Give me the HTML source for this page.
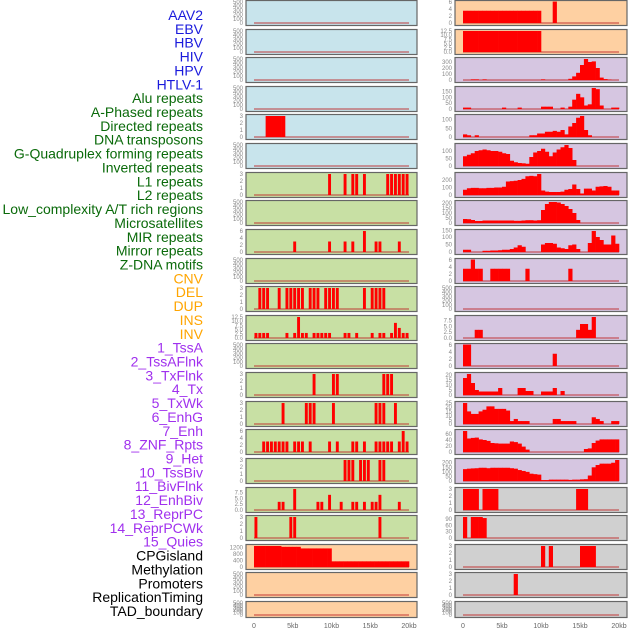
<!DOCTYPE html>
<html><head><meta charset="utf-8"><style>
body{margin:0;background:#fff;}
svg{display:block;font-family:"Liberation Sans",sans-serif;}
</style></head><body>
<svg id="chart" width="630" height="630"></svg>
<script>
const trackLabels = ["AAV2","EBV","HBV","HIV","HPV","HTLV-1","Alu repeats","A-Phased repeats","Directed repeats","DNA transposons","G-Quadruplex forming repeats","Inverted repeats","L1 repeats","L2 repeats","Low_complexity A/T rich regions","Microsatellites","MIR repeats","Mirror repeats","Z-DNA motifs","CNV","DEL","DUP","INS","INV","1_TssA","2_TssAFlnk","3_TxFlnk","4_Tx","5_TxWk","6_EnhG","7_Enh","8_ZNF_Rpts","9_Het","10_TssBiv","11_BivFlnk","12_EnhBiv","13_ReprPC","14_ReprPCWk","15_Quies","CPGisland","Methylation","Promoters","ReplicationTiming","TAD_boundary"];
const labelGroups = [6,13,5,15,5];
const groupColors = ["#1a1adc","#0a6a0a","#ffa500","#a030ee","#000000"];
const xTickValues = [0,5,10,15,20];
const xTickLabels = ["0","5kb","10kb","15kb","20kb"];
const binWidthKb = 0.5;
const emptyTicks = [0,100,200,300,400,500];

const leftValues = [
 [],[],[],[],
 [[3,3],[4,3],[5,3],[6,3],[7,3]],
 [],
 [[19,3],[23,3],[25,3],[26,3],[28,3],[34,3],[35,3],[36,3],[37,3],[38,3],[39,3]],
 [],
 [[10,3],[19,3],[23,3],[25,3],[28,6],[31,3],[32,3],[37,3]],
 [],
 [[1,3],[2,3],[3,3],[6,3],[8,3],[9,3],[10,3],[11,3],[12,3],[14,3],[15,3],[16,3],[18,3],[19,3],[20,3],[21,3],[28,3],[30,3],[31,3],[32,3],[33,3]],
 [[0,3],[1,3],[2,3],[3,3],[8,3],[10,3],[11,12.5],[12,3],[13,3],[15,3],[16,3],[17,3],[18,3],[19,3],[23,3],[24,3],[26,3],[30,3],[32,3],[33,3],[35,3],[36,9],[37,6],[38,3],[39,3]],
 [],
 [[15,3],[20,3],[21,3],[33,3],[34,3],[35,3]],
 [[7,3],[13,3],[14,3],[15,3],[20,3],[31,3],[32,3],[33,3],[36,3]],
 [[2,3],[3,3],[4,3],[5,3],[6,3],[7,3],[8,3],[10,3],[11,3],[12,3],[14,3],[19,3],[21,3],[25,3],[26,3],[28,3],[31,3],[32,3],[33,3],[34,3],[35,3],[37,3],[38,6],[39,3]],
 [[23,3],[24,3],[25,3],[27,3],[28,3],[29,3],[32,3],[33,3]],
 [[6,3.5],[7,3.5],[10,9],[16,3.5],[17,3.5],[19,6.5],[22,3.5],[25,3.5],[26,3.5],[28,3.5],[30,3.5],[31,3.5],[32,6.5],[37,3.5]],
 [[0,3],[9,3],[10,3],[32,3]],
 [[0,1300],[1,1300],[2,1300],[3,1300],[4,1300],[5,1300],[6,1300],[7,1250],[8,1250],[9,1250],[10,1250],[11,1250],[12,1150],[13,1150],[14,1150],[15,1150],[16,1150],[17,1150],[18,1150],[19,1150],[20,350],[21,350],[22,350],[23,350],[24,350],[25,350],[26,350],[27,350],[28,350],[29,350],[30,350],[31,350],[32,350],[33,350],[34,350],[35,350],[36,350],[37,350],[38,350],[39,350]],
 [],[]
];
const leftTicks = [emptyTicks,emptyTicks,emptyTicks,emptyTicks,[0,1,2,3],emptyTicks,[0,1,2,3],emptyTicks,[0,2,4,6],emptyTicks,[0,1,2,3],[0,2.5,5,7.5,10,12.5],emptyTicks,[0,1,2,3],[0,1,2,3],[0,2,4,6],[0,1,2,3],[0,2.5,5,7.5],[0,1,2,3],[0,400,800,1200],emptyTicks,emptyTicks];
const leftMax = [500,500,500,500,3,500,3,500,6,500,3,12.5,500,3,3,6,3,9,3,1300,500,500];
const leftBg = ["#c8e4ec","#c8e4ec","#c8e4ec","#c8e4ec","#c8e4ec","#c8e4ec","#c8e0a4","#c8e0a4","#c8e0a4","#c8e0a4","#c8e0a4","#c8e0a4","#c8e0a4","#c8e0a4","#c8e0a4","#c8e0a4","#c8e0a4","#c8e0a4","#c8e0a4","#fed0a2","#fed0a2","#fed0a2"];

const rightValues = [
 [[0,3.5],[1,3.5],[2,3.5],[3,3.5],[4,3.5],[5,3.5],[6,3.5],[7,3.5],[8,3.5],[9,3.5],[10,3.5],[11,3.5],[12,3.5],[13,3.5],[14,3.5],[15,3.5],[16,3.5],[17,3.5],[18,3.5],[19,3.5],[23,6.5]],
 [[0,12.5],[1,12.5],[2,12.5],[3,12.5],[4,12.5],[5,12.5],[6,12.5],[7,12.5],[8,12.5],[9,12.5],[10,12.5],[11,12.5],[12,12.5],[13,12.5],[14,12.5],[15,12.5],[16,12.5],[17,12.5],[18,12.5],[19,12.5]],
 [[2,10],[3,10],[5,10],[20,10],[27,20],[28,60],[29,120],[30,250],[31,350],[32,300],[33,310],[34,200],[35,40],[36,15],[37,5]],
 [[0,12],[1,12],[10,12],[14,12],[20,20],[21,20],[22,20],[25,12],[27,20],[28,80],[29,130],[30,100],[31,30],[32,40],[33,180],[34,170],[35,30],[38,12],[39,12]],
 [[0,15],[1,10],[3,10],[17,10],[18,10],[19,20],[20,20],[21,30],[22,30],[23,35],[24,30],[25,40],[26,15],[27,60],[28,80],[29,110],[30,120],[31,40],[32,10]],
 [[0,65],[1,75],[2,85],[3,100],[4,105],[5,110],[6,105],[7,100],[8,100],[9,95],[10,85],[11,80],[12,35],[13,25],[14,20],[15,18],[16,15],[17,60],[18,90],[19,100],[20,115],[21,95],[22,65],[23,90],[24,110],[25,125],[26,140],[27,120],[28,40]],
 [[0,70],[1,90],[2,95],[3,95],[4,90],[5,90],[6,95],[7,95],[8,100],[9,100],[10,110],[11,180],[12,185],[13,190],[14,200],[15,215],[16,250],[17,255],[18,250],[19,280],[20,60],[21,45],[22,40],[23,40],[24,40],[25,45],[26,70],[27,80],[28,140],[29,80],[30,20],[31,85],[32,85],[33,60],[34,110],[35,115],[36,120],[37,110],[38,60],[39,60]],
 [[0,40],[1,38],[2,30],[3,20],[4,20],[5,25],[6,25],[7,25],[8,25],[9,25],[10,25],[11,25],[12,25],[13,22],[14,22],[15,25],[16,28],[17,28],[18,25],[19,28],[20,130],[21,190],[22,210],[23,210],[24,205],[25,190],[26,170],[27,140],[28,100],[29,30]],
 [[0,15],[1,15],[5,8],[6,8],[7,10],[8,10],[9,12],[10,15],[11,15],[12,20],[13,30],[14,45],[15,35],[20,50],[21,60],[22,60],[23,55],[24,30],[25,25],[26,20],[27,45],[28,50],[29,20],[32,60],[33,140],[34,100],[35,80],[36,50],[37,50],[38,110],[39,55]],
 [[0,3.5],[1,3.5],[2,6.5],[3,3.5],[4,3.5],[7,3.5],[8,3.5],[9,3.5],[10,3.5],[11,3.5],[16,3.5],[27,3.5]],
 [],
 [[3,3.5],[4,3.5],[29,3.5],[30,6],[31,6],[32,3.5],[33,9]],
 [[0,6.5],[1,6.5],[23,3.5]],
 [[0,17],[1,21],[2,12],[3,5],[4,3.5],[5,3.5],[6,3.5],[7,3.5],[8,3.5],[9,7],[14,7],[15,7],[16,4],[17,4],[20,3.5],[21,3.5],[22,3.5],[23,7],[25,4]],
 [[0,25],[1,15],[2,12],[3,12],[4,15],[5,17],[6,21],[7,21],[8,18],[9,18],[10,18],[11,16],[12,3.5],[13,6],[14,3.5],[15,3.5],[16,3.5],[23,6],[24,6],[25,3.5],[26,3.5],[27,3.5],[28,3.5],[33,8],[34,6],[35,3.5],[38,3.5],[39,3.5]],
 [[0,70],[1,45],[2,47],[3,48],[4,42],[5,40],[6,37],[7,30],[8,29],[9,28],[10,28],[11,28],[12,35],[13,33],[14,28],[15,18],[16,8],[31,10],[32,12],[33,30],[34,38],[35,42],[36,42],[37,42],[38,42],[39,42]],
 [[0,130],[1,135],[2,138],[3,140],[4,145],[5,145],[6,140],[7,145],[8,145],[9,145],[10,145],[11,145],[12,140],[13,135],[14,120],[15,110],[16,100],[17,80],[18,75],[19,70],[20,10],[21,10],[22,15],[23,15],[24,15],[25,15],[26,15],[27,12],[28,15],[29,15],[30,18],[31,20],[32,60],[33,150],[34,175],[35,190],[36,190],[37,190],[38,200],[39,230]],
 [[0,3],[1,3],[2,3],[3,3],[5,3],[6,3],[7,3],[8,3],[29,3],[30,3],[31,3]],
 [[0,100],[2,100],[3,100],[4,100],[5,95]],
 [[20,3],[22,3],[30,3],[31,3],[32,3],[33,3]],
 [[13,3]],
 []
];
const rightTicks = [[0,2,4,6],[0,2.5,5,7.5,10,12.5],[0,100,200,300],[0,50,100,150],[0,50,100],[0,50,100],[0,100,200],[0,50,100,150,200],[0,50,100,150],[0,2,4,6],emptyTicks,[0,2.5,5,7.5],[0,2,4,6],[0,5,10,15,20],[0,5,10,15,20,25],[0,20,40,60],[0,50,100,150,200],[0,1,2,3],[0,30,60,90],[0,1,2,3],[0,1,2,3],emptyTicks];
const rightMax = [6,12.5,350,180,120,140,280,210,140,6,500,9,6,21,25,70,230,3,100,3,3,500];
const rightBg = ["#fed0a2","#fed0a2"].concat(Array(15).fill("#d6c6e1")).concat(Array(5).fill("#d0d0d0"));

const NS="http://www.w3.org/2000/svg";
const svg=document.getElementById('chart');
function mk(tag,attrs,parent){const e=document.createElementNS(NS,tag);for(const k in attrs)e.setAttribute(k,attrs[k]);(parent||svg).appendChild(e);return e;}

let li=0;
labelGroups.forEach((n,g)=>{for(let i=0;i<n;i++){const t=mk('text',{x:203,y:15+li*13.86+5,'text-anchor':'end','font-size':14,fill:groupColors[g]});
t.textContent=trackLabels[li];


li++;}});

function panelTop(r){return Math.round(r*28.62);}
function panelH(r){return r===21?16:25;}

function drawColumn(side,x0,x1,xa,xb,values,ticks,maxes,bgs,narrowRows){
  const xs=kb=>xa+kb/20*(xb-xa);
  for(let r=0;r<22;r++){
    const top=panelTop(r),h=panelH(r);
    const g=mk('g',{});
    
    
    const bg=mk('rect',{x:x0,y:top+0.5,width:x1-x0,height:h,fill:bgs[r],stroke:'#666','stroke-width':1.2},g);
    
    
    const y0=top+h-2, yt=top+2;
    const ys=v=>y0-Math.min(v,maxes[r]*1.02)/maxes[r]*(y0-yt);
    const base=mk('line',{x1:xs(0),x2:xs(20),y1:y0,y2:y0,stroke:'rgba(190,40,40,0.6)','stroke-width':1.5},g);
    
    
    const frac=narrowRows.includes(r)?0.75:1;
    values[r].forEach(([b,v])=>{
      const xL=xs(b*binWidthKb),xR=xs((b+1)*binWidthKb);
      const w=(xR-xL)*frac;
      const bar=mk('rect',{x:xL+((xR-xL)-w)/2,y:ys(v),width:w+(frac===1?0.3:0),height:y0-ys(v),fill:'#ff0000'},g);
      
      
    });
    const dec=ticks[r].some(t=>t%1!==0);
    ticks[r].forEach(t=>{
      const tx=mk('text',{x:x0-3,y:ys(t)+2,'text-anchor':'end','font-size':6,fill:'#888'},g);
      tx.textContent=dec?t.toFixed(1):String(t);
      
      
    });
  }
  xTickValues.forEach((v,i)=>{
    const t=mk('text',{x:xs(v),y:628,'text-anchor':'middle','font-size':7,fill:'#666'});
    t.textContent=xTickLabels[i];
    
    
  });
}
drawColumn('left',246,417,254,409,leftValues,leftTicks,leftMax,leftBg,[6,8,10,11,13,14,15,16,17,18]);
drawColumn('right',455,627,463,619,rightValues,rightTicks,rightMax,rightBg,[]);
</script>
</body></html>
